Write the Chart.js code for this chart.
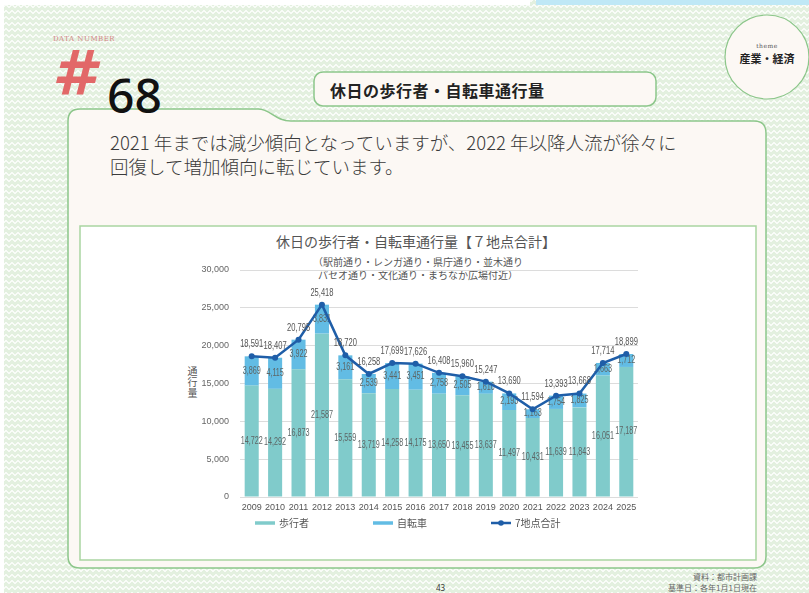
<!DOCTYPE html>
<html lang="ja">
<head>
<meta charset="utf-8">
<title>休日の歩行者・自転車通行量</title>
<script src="https://cdn.jsdelivr.net/npm/chart.js@4/dist/chart.umd.min.js"></script>
<style>
  body { margin: 0; }
  #page {
    position: relative; width: 809px; height: 593px; overflow: hidden;
    font-family: 'Noto Sans CJK JP', sans-serif;
    background-color: #e3f0df;
    background-image:
      linear-gradient(135deg, #f9fcf8 25%, transparent 25%),
      linear-gradient(225deg, #f9fcf8 25%, transparent 25%),
      linear-gradient(315deg, #f9fcf8 25%, transparent 25%),
      linear-gradient(45deg, #f9fcf8 25%, transparent 25%);
    background-position: -3px 0, -3px 0, 0 0, 0 0;
    background-size: 6px 6px;
  }
  .abs { position: absolute; white-space: nowrap; }
  #deco { position: absolute; left: 0; top: 0; }
  #chartBox { position: absolute; left: 82px; top: 228px; width: 672px; height: 330px; }
</style>
</head>
<body>
<div id="page">
  <svg id="deco" width="809" height="593">
    <rect x="0" y="0" width="530" height="5" fill="#ffffff"/>
    <rect x="536" y="0" width="273" height="5" fill="#bfe8f6"/>
    <rect x="0" y="0" width="4" height="593" fill="#ffffff"/>
    <path d="M68,556 L68,121 Q68,109 80,109 L258,109 C271,109 275,121 291,121 L754,121 Q766,121 766,133 L766,556 Q766,568 754,568 L80,568 Q68,568 68,556 Z"
          fill="#fcf8f4" stroke="#8cc68a" stroke-width="1.5"/>
    <rect x="80" y="226" width="676" height="334" fill="#ffffff" stroke="#a9d5a1" stroke-width="1.5"/>
    <rect x="314" y="72" width="342" height="34" rx="9" fill="#fcf8f4" stroke="#8cc68a" stroke-width="1.5"/>
    <circle cx="767" cy="57" r="42" fill="#fcf8f4" stroke="#8cc68a" stroke-width="1.2"/>
  </svg>

  <div class="abs" style="left:53px;top:35px;font:7px 'DejaVu Serif',serif;color:#d48686;letter-spacing:0.5px;">DATA NUMBER</div>
  <div class="abs" style="left:52px;top:37px;font:italic 900 62px 'DejaVu Sans',sans-serif;color:#e26868;">#</div>
  <div class="abs" style="left:107px;top:62px;font:500 48px 'Noto Sans',sans-serif;color:#111;">68</div>
  <div class="abs" style="left:330px;top:78px;font:bold 16px 'Noto Sans CJK JP',sans-serif;color:#222;letter-spacing:0.5px;">休日の歩行者・自転車通行量</div>
  <div class="abs" style="left:725px;top:42px;width:84px;text-align:center;font:6px 'DejaVu Serif',serif;color:#555;letter-spacing:0.5px;">theme</div>
  <div class="abs" style="left:725px;top:50px;width:84px;text-align:center;font:bold 11px 'Noto Sans CJK JP',sans-serif;color:#222;">産業・経済</div>
  <div class="abs" style="left:110px;top:130px;font:300 18.5px/24px 'Noto Sans CJK JP',sans-serif;color:#3a3a3a;">2021 年までは減少傾向となっていますが、2022 年以降人流が徐々に<br>回復して増加傾向に転じています。</div>

  <div class="abs" style="left:216px;top:231px;width:400px;text-align:center;font:14px/20px 'Noto Sans CJK JP',sans-serif;color:#555;">休日の歩行者・自転車通行量【７地点合計】</div>
  <div class="abs" style="left:218px;top:255px;width:400px;text-align:center;font:10px/13px 'Noto Sans CJK JP',sans-serif;color:#555;">（駅前通り・レンガ通り・県庁通り・並木通り<br>パセオ通り・文化通り・まちなか広場付近）</div>
  <div class="abs" style="left:187px;top:365px;width:11px;text-align:center;white-space:normal;font:10px/11px 'Noto Sans CJK JP',sans-serif;color:#555;">通<br>行<br>量</div>

  <div id="chartBox"><canvas id="trafficChart"></canvas></div>

  <div class="abs" style="right:52px;top:571px;font:8px 'Noto Sans CJK JP',sans-serif;color:#666;">資料：都市計画課</div>
  <div class="abs" style="right:52px;top:582px;font:8px 'Noto Sans CJK JP',sans-serif;color:#666;">基準日：各年1月1日現在</div>
  <div class="abs" style="left:436px;top:582px;font:8px 'Noto Sans',sans-serif;color:#333;">43</div>
</div>

<script>
// Data
const years = ['2009', '2010', '2011', '2012', '2013', '2014', '2015', '2016', '2017',
               '2018', '2019', '2020', '2021', '2022', '2023', '2024', '2025'];
const pedestrians = [14722, 14292, 16873, 21587, 15559, 13719, 14258, 14175, 13650,
                     13455, 13637, 11497, 10431, 11639, 11843, 16051, 17187];
const bicycles = [3869, 4115, 3922, 3831, 3161, 2539, 3441, 3451, 2758,
                  2505, 1610, 2193, 1163, 1754, 1825, 1663, 1712];
const totals = [18591, 18407, 20795, 25418, 18720, 16258, 17699, 17626, 16408,
                15960, 15247, 13690, 11594, 13393, 13668, 17714, 18899];
const yTicks = [0, 5000, 10000, 15000, 20000, 25000, 30000];

const NUM_FONT = "'Liberation Sans', 'Noto Sans CJK JP', sans-serif";
const formatNumber = v => v.toLocaleString('en-US');

// Narrow numeric text, squeezed horizontally like the condensed face in the original
function drawNarrow(ctx, text, x, y, squeeze) {
    ctx.save();
    ctx.translate(x, y);
    ctx.scale(squeeze, 1);
    ctx.fillText(text, 0, 0);
    ctx.restore();
}

// Value labels: bar segments (drawn before the line) and totals above the points
const valueLabels = {
    id: 'valueLabels',
    afterDatasetDraw(chart, args) {
        const dataset = chart.data.datasets[args.index];
        if (dataset.type === 'line') return;
        const ctx = chart.ctx;
        ctx.save();
        ctx.font = '10px ' + NUM_FONT;
        ctx.fillStyle = '#5d6666';
        ctx.textAlign = 'center';
        ctx.textBaseline = 'middle';
        args.meta.data.forEach((bar, i) => {
            const p = bar.getProps(['x', 'y', 'base'], true);
            drawNarrow(ctx, formatNumber(dataset.data[i]), p.x, (p.y + p.base) / 2, 0.72);
        });
        ctx.restore();
    },
    afterDatasetsDraw(chart) {
        const index = chart.data.datasets.findIndex(d => d.type === 'line');
        const meta = chart.getDatasetMeta(index);
        const ctx = chart.ctx;
        ctx.save();
        ctx.font = '10.5px ' + NUM_FONT;
        ctx.fillStyle = '#555';
        ctx.textAlign = 'center';
        ctx.textBaseline = 'middle';
        meta.data.forEach((pt, i) => {
            drawNarrow(ctx, formatNumber(chart.data.datasets[index].data[i]), pt.x, pt.y - 12, 0.72);
        });
        ctx.restore();
    }
};

// Legend row under the x axis, markers drawn as short lines
const lineLegend = {
    id: 'lineLegend',
    afterDraw(chart, args, opts) {
        const ctx = chart.ctx;
        const y = chart.chartArea.bottom + opts.offsetY;
        let x = chart.chartArea.left + opts.offsetX;
        ctx.save();
        ctx.font = "10px 'Noto Sans CJK JP', sans-serif";
        ctx.textBaseline = 'middle';
        chart.data.datasets.forEach(ds => {
            const color = ds.type === 'line' ? ds.borderColor : ds.backgroundColor;
            ctx.strokeStyle = color;
            ctx.lineWidth = ds.type === 'line' ? 2.5 : 3.5;
            ctx.beginPath();
            ctx.moveTo(x, y);
            ctx.lineTo(x + opts.markerWidth, y);
            ctx.stroke();
            if (ds.type === 'line') {
                ctx.fillStyle = color;
                ctx.beginPath();
                ctx.arc(x + opts.markerWidth / 2, y, 2.8, 0, Math.PI * 2);
                ctx.fill();
            }
            ctx.fillStyle = '#555';
            const tx = x + opts.markerWidth + 4;
            ctx.fillText(ds.label, tx, y);
            x = tx + ctx.measureText(ds.label).width + opts.spacing;
        });
        ctx.restore();
    }
};

const ctx = document.getElementById('trafficChart').getContext('2d');
new Chart(ctx, {
    type: 'bar',
    data: {
        labels: years,
        datasets: [
            {
                label: '歩行者',
                data: pedestrians,
                backgroundColor: '#80cbcb',
                stack: 'counts',
                order: 1
            },
            {
                label: '自転車',
                data: bicycles,
                backgroundColor: '#62bce4',
                stack: 'counts',
                order: 1
            },
            {
                type: 'line',
                label: '7地点合計',
                data: totals,
                borderColor: '#1f5ea8',
                backgroundColor: '#1f5ea8',
                borderWidth: 2.5,
                pointRadius: 3,
                pointBackgroundColor: '#1f5ea8',
                pointBorderWidth: 0,
                tension: 0,
                stack: 'total',
                order: 0
            }
        ]
    },
    options: {
        responsive: true,
        maintainAspectRatio: false,
        animation: false,
        datasets: {
            bar: { categoryPercentage: 1, barPercentage: 0.6 }
        },
        layout: {
            padding: { left: 98, right: 116, top: 42, bottom: 41 }
        },
        plugins: {
            legend: { display: false },
            tooltip: { enabled: false },
            lineLegend: { offsetX: 15, offsetY: 26, markerWidth: 20, spacing: 64 }
        },
        scales: {
            x: {
                stacked: true,
                grid: { display: false, drawTicks: false },
                border: { display: false },
                ticks: {
                    color: '#555',
                    padding: 5,
                    autoSkip: false,
                    maxRotation: 0,
                    font: { family: NUM_FONT, size: 9 }
                },
                afterFit: scale => { scale.height = 20; }
            },
            y: {
                stacked: true,
                min: 0,
                max: 30000,
                grid: { color: '#dcdcdc', drawTicks: false },
                border: { display: false },
                afterBuildTicks: scale => { scale.ticks = yTicks.map(v => ({ value: v })); },
                ticks: {
                    color: '#666',
                    padding: 11,
                    font: { family: NUM_FONT, size: 9 },
                    callback: value => formatNumber(value)
                },
                afterFit: scale => { scale.width = 60; }
            }
        }
    },
    plugins: [valueLabels, lineLegend]
});
</script>
</body>
</html>
